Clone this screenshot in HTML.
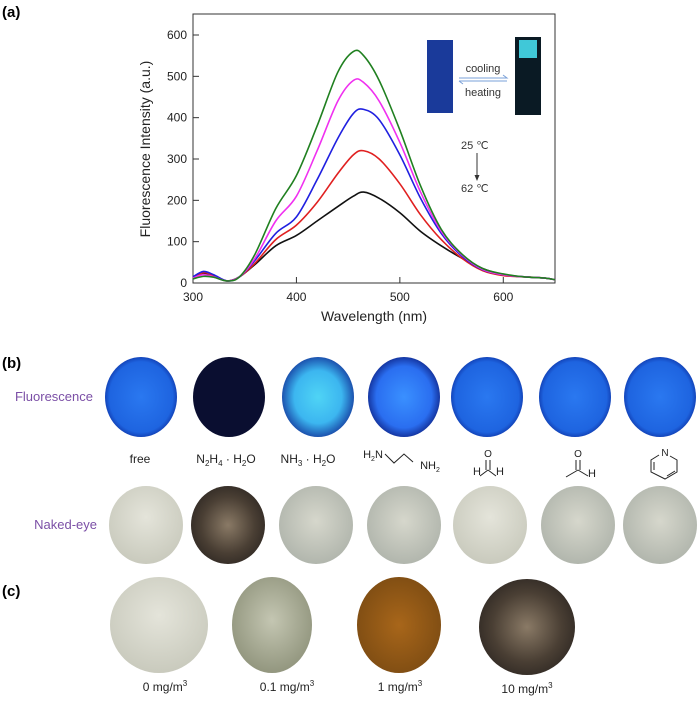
<!DOCTYPE html>
<html><head><meta charset="utf-8"><style>
body{margin:0;background:#fff;width:700px;height:703px;overflow:hidden;font-family:"Liberation Sans",sans-serif}
svg{display:block}
</style></head><body>
<svg width="700" height="703" viewBox="0 0 700 703">
<defs>
<radialGradient id="fb" cx="50%" cy="50%" r="55%"><stop offset="0" stop-color="#2a78f0"/><stop offset="0.8" stop-color="#1e64e0"/><stop offset="1" stop-color="#0a2a9a"/></radialGradient>
<radialGradient id="fc" cx="50%" cy="50%" r="55%"><stop offset="0" stop-color="#4fd4f5"/><stop offset="0.6" stop-color="#3cb6f0"/><stop offset="1" stop-color="#12349a"/></radialGradient>
<radialGradient id="fd" cx="50%" cy="50%" r="55%"><stop offset="0" stop-color="#3a90ff"/><stop offset="0.7" stop-color="#2a6ef0"/><stop offset="1" stop-color="#0c1e80"/></radialGradient>
<radialGradient id="gy" cx="50%" cy="45%" r="60%"><stop offset="0" stop-color="#d6d7cc"/><stop offset="1" stop-color="#aeb3aa"/></radialGradient>
<radialGradient id="wh" cx="50%" cy="40%" r="60%"><stop offset="0" stop-color="#e4e4da"/><stop offset="1" stop-color="#c9cabd"/></radialGradient>
<radialGradient id="dk" cx="50%" cy="50%" r="60%"><stop offset="0" stop-color="#8a7a66"/><stop offset="0.6" stop-color="#4a3f34"/><stop offset="1" stop-color="#2a2420"/></radialGradient>
<radialGradient id="br" cx="50%" cy="50%" r="60%"><stop offset="0" stop-color="#a8661a"/><stop offset="1" stop-color="#7a4a12"/></radialGradient>
<radialGradient id="g01" cx="50%" cy="45%" r="60%"><stop offset="0" stop-color="#c4c6b2"/><stop offset="1" stop-color="#8e927a"/></radialGradient>
</defs>
<text x="2" y="17" font-size="15" font-weight="bold">(a)</text>
<g id="chart">
<rect x="193" y="14" width="362" height="269" fill="none" stroke="#333" stroke-width="1"/>
<g id="ticks"></g>
<g id="curves"></g>
<text x="374" y="321" font-size="14" text-anchor="middle" fill="#222">Wavelength (nm)</text>
<text transform="translate(150,149) rotate(-90)" font-size="14" text-anchor="middle" fill="#222">Fluorescence Intensity (a.u.)</text>
<rect x="427" y="40" width="26" height="73" fill="#1a3a9a"/>
<rect x="515" y="37" width="26" height="78" fill="#0a1a24"/>
<rect x="519" y="40" width="18" height="18" fill="#40c8d8"/>
<text x="483" y="72" font-size="11" text-anchor="middle" fill="#333">cooling</text>
<path d="M459 78 H507 l-4 -3 M459 81 H507 M459 81 l4 3" stroke="#7aa0d8" fill="none" stroke-width="1"/>
<text x="483" y="96" font-size="11" text-anchor="middle" fill="#333">heating</text>
<text x="461" y="149" font-size="11" fill="#333">25 ℃</text>
<path d="M477 153 V180" stroke="#333"/><path d="M474.5 175 L477 181 L479.5 175Z" fill="#333"/>
<text x="461" y="192" font-size="11" fill="#333">62 ℃</text>
</g>
<text x="2" y="368" font-size="15" font-weight="bold">(b)</text>
<text x="93" y="401" font-size="13" fill="#7b4fa6" text-anchor="end">Fluorescence</text>
<text x="97" y="529" font-size="13" fill="#7b4fa6" text-anchor="end">Naked-eye</text>
<g>
<ellipse cx="141" cy="397" rx="36" ry="40" fill="url(#fb)"/>
<ellipse cx="229" cy="397" rx="36" ry="40" fill="#0a0e30"/>
<ellipse cx="318" cy="397" rx="36" ry="40" fill="url(#fc)"/>
<ellipse cx="404" cy="397" rx="36" ry="40" fill="url(#fd)"/>
<ellipse cx="487" cy="397" rx="36" ry="40" fill="url(#fb)"/>
<ellipse cx="575" cy="397" rx="36" ry="40" fill="url(#fb)"/>
<ellipse cx="660" cy="397" rx="36" ry="40" fill="url(#fb)"/>
</g>
<g font-size="12" fill="#222" text-anchor="middle">
<text x="140" y="463">free</text>
<text x="226" y="463">N<tspan font-size="8" dy="3">2</tspan><tspan dy="-3">H</tspan><tspan font-size="8" dy="3">4</tspan><tspan dy="-3"> · H</tspan><tspan font-size="8" dy="3">2</tspan><tspan dy="-3">O</tspan></text>
<text x="308" y="463">NH<tspan font-size="8" dy="3">3</tspan><tspan dy="-3"> · H</tspan><tspan font-size="8" dy="3">2</tspan><tspan dy="-3">O</tspan></text>
<g><text x="373" y="458" font-size="11">H<tspan font-size="7" dy="3">2</tspan><tspan dy="-3">N</tspan></text><path d="M385 454 L394 463 L404 454 L413 462" stroke="#222" fill="none"/><text x="430" y="469" font-size="11">NH<tspan font-size="7" dy="3">2</tspan></text></g>
<g><text x="488" y="457" font-size="10">O</text><path d="M486 460 V470 M490 460 V470 M488 470 L480 476 M488 470 L496 476" stroke="#222" fill="none"/><text x="477" y="475" font-size="11">H</text><text x="500" y="475" font-size="11">H</text></g>
<g><text x="578" y="457" font-size="10">O</text><path d="M576 460 V470 M580 460 V470 M578 470 L566 477 M578 470 L588 476" stroke="#222" fill="none"/><text x="592" y="477" font-size="11">H</text></g>
<g><text x="665" y="456" font-size="10">N</text><path d="M659 455 L651 460 V472 L665 479 L677 472 V460 L670 456 M654 462 V470 M667 476 L675 471" stroke="#222" fill="none"/></g>
</g>
<g>
<ellipse cx="146" cy="525" rx="37" ry="39" fill="url(#wh)"/>
<ellipse cx="228" cy="525" rx="37" ry="39" fill="url(#dk)"/>
<ellipse cx="316" cy="525" rx="37" ry="39" fill="url(#gy)"/>
<ellipse cx="404" cy="525" rx="37" ry="39" fill="url(#gy)"/>
<ellipse cx="490" cy="525" rx="37" ry="39" fill="url(#wh)"/>
<ellipse cx="578" cy="525" rx="37" ry="39" fill="url(#gy)"/>
<ellipse cx="660" cy="525" rx="37" ry="39" fill="url(#gy)"/>
</g>
<text x="2" y="596" font-size="15" font-weight="bold">(c)</text>
<g>
<ellipse cx="159" cy="625" rx="49" ry="48" fill="url(#wh)"/>
<ellipse cx="272" cy="625" rx="40" ry="48" fill="url(#g01)"/>
<ellipse cx="399" cy="625" rx="42" ry="48" fill="url(#br)"/>
<ellipse cx="527" cy="627" rx="48" ry="48" fill="url(#dk)"/>
</g>
<g font-size="12" fill="#222" text-anchor="middle">
<text x="165" y="691">0 mg/m<tspan font-size="8" dy="-5">3</tspan></text>
<text x="287" y="691">0.1 mg/m<tspan font-size="8" dy="-5">3</tspan></text>
<text x="400" y="691">1 mg/m<tspan font-size="8" dy="-5">3</tspan></text>
<text x="527" y="693">10 mg/m<tspan font-size="8" dy="-5">3</tspan></text>
</g>
</svg>
<script>
const wavelengths=[300,310,320,333,345,360,380,400,420,440,455,465,480,500,520,540,560,580,600,620,640,650];
const black=[12,22,18,5,15,45,90,115,150,185,210,220,205,170,125,90,60,35,20,15,12,8];
const red=[12,25,18,5,15,48,105,140,195,265,310,320,300,240,165,105,60,30,18,15,12,8];
const blue=[15,28,20,5,15,55,120,160,250,350,410,420,395,310,205,120,65,32,20,15,12,8];
const magenta=[12,20,15,5,15,60,150,210,320,440,490,485,440,340,220,125,68,33,20,15,12,8];
const green=[10,16,14,5,15,70,180,260,380,510,560,550,490,370,235,130,70,35,22,15,12,8];
const xTicks=[300,400,500,600];
const yTicks=[0,100,200,300,400,500,600];
const NS='http://www.w3.org/2000/svg';
function xs(v){return 193+(v-300)*(555-193)/350;}
function ys(v){return 283-v*(283-35)/600;}
const tg=document.getElementById('ticks');
function mk(t,a,p){const e=document.createElementNS(NS,t);for(const k in a)e.setAttribute(k,a[k]);p.appendChild(e);return e;}
xTicks.forEach(v=>{
 mk('line',{x1:xs(v),x2:xs(v),y1:283,y2:277,stroke:'#333'},tg);
 const t=mk('text',{x:xs(v),y:301,'font-size':12,'text-anchor':'middle',fill:'#222'},tg);
 t.textContent=v;
 
 
});
yTicks.forEach(v=>{
 mk('line',{x1:193,x2:199,y1:ys(v),y2:ys(v),stroke:'#333'},tg);
 const t=mk('text',{x:187,y:ys(v)+4,'font-size':12,'text-anchor':'end',fill:'#222'},tg);
 t.textContent=v;
 
 
});
function path(vals){
 const p=wavelengths.map((w,i)=>[xs(w),ys(vals[i])]);
 let d='M'+p[0][0]+' '+p[0][1];
 for(let i=0;i<p.length-1;i++){
  const p0=p[Math.max(0,i-1)],p1=p[i],p2=p[i+1],p3=p[Math.min(p.length-1,i+2)];
  const c1=[p1[0]+(p2[0]-p0[0])/6,p1[1]+(p2[1]-p0[1])/6],c2=[p2[0]-(p3[0]-p1[0])/6,p2[1]-(p3[1]-p1[1])/6];
  d+=` C${c1[0]} ${c1[1]} ${c2[0]} ${c2[1]} ${p2[0]} ${p2[1]}`;
 }
 return d;
}
const cg=document.getElementById('curves');
[[black,'#111','series-25c-black'],[red,'#e02020','series-red'],[blue,'#2020e0','series-blue'],[magenta,'#f030f0','series-magenta'],[green,'#208020','series-green']].forEach(s=>{
 const e=mk('path',{d:path(s[0]),stroke:s[1],fill:'none','stroke-width':1.6},cg);
 
 
});
</script>
</body></html>
